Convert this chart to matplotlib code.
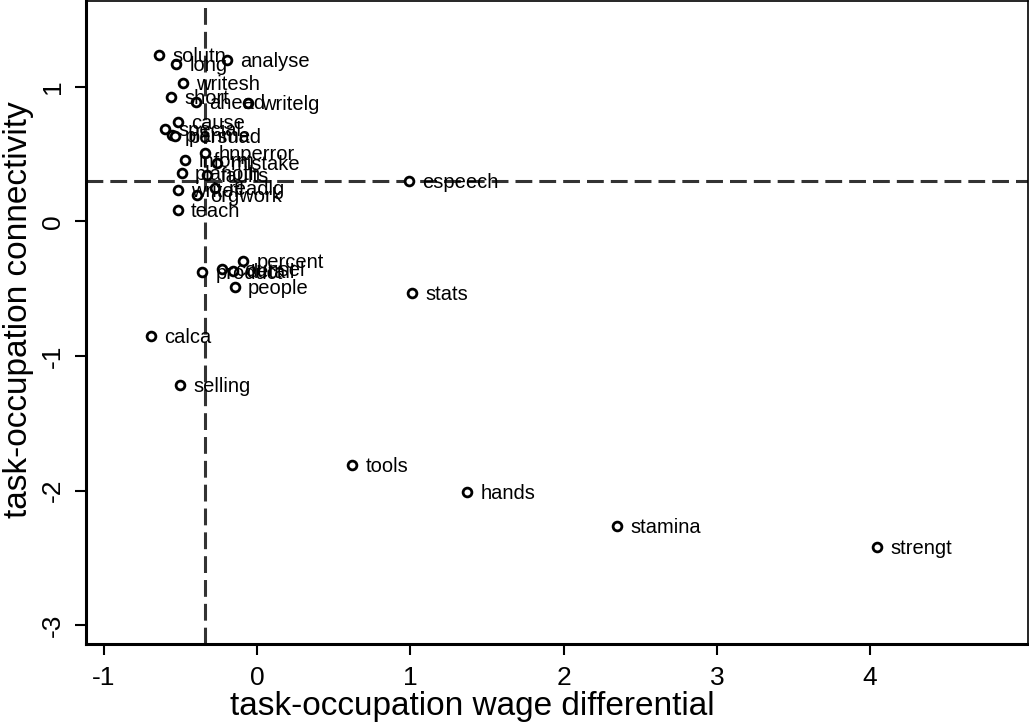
import matplotlib
matplotlib.use("Agg")
import matplotlib.pyplot as plt

plt.rcParams['font.family'] = ['Liberation Sans', 'DejaVu Sans']

labels = ["solutn", "long", "analyse", "writesh", "short", "ahead", "writelg",
          "cause", "special", "planme", "persuad", "hnperror", "inform", "mistake",
          "planoth", "faults", "writefl", "readlg", "orgwork", "teach", "espeech",
          "percent", "product", "counsel", "detail", "people", "stats", "calca",
          "selling", "tools", "hands", "stamina", "strengt"]
wage_diff = [-0.64, -0.529, -0.196, -0.483, -0.561, -0.398, -0.059,
             -0.516, -0.60, -0.555, -0.535, -0.339, -0.47, -0.261,
             -0.49, -0.326, -0.516, -0.274, -0.392, -0.516, 0.992,
             -0.091, -0.359, -0.228, -0.157, -0.144, 1.012, -0.692,
             -0.503, 0.62, 1.371, 2.35, 4.047]
connectivity = [1.237, 1.17, 1.20, 1.03, 0.925, 0.888, 0.88,
                0.74, 0.687, 0.643, 0.635, 0.509, 0.457, 0.435,
                0.36, 0.345, 0.234, 0.249, 0.197, 0.085, 0.30,
                -0.293, -0.375, -0.353, -0.368, -0.487, -0.531, -0.851,
                -1.215, -1.809, -2.01, -2.262, -2.418]
vline_x = -0.34
hline_y = 0.30
xticks = [-1, 0, 1, 2, 3, 4]
yticks = [-3, -2, -1, 0, 1]

fig = plt.figure(figsize=(10.29, 7.26), dpi=100)
ax = fig.add_axes([86/1029, 82/726, 942/1029, 643/726])

ax.axvline(vline_x, color='#333333', lw=2.2, ls=(0, (5.5, 2.3)), zorder=1)
ax.axhline(hline_y, color='#333333', lw=2.2, ls=(0, (5.5, 2.3)), zorder=1)

ax.scatter(wage_diff, connectivity, s=40, facecolors='white', edgecolors='black',
           linewidths=2.0, zorder=3)
for lab, x, y in zip(labels, wage_diff, connectivity):
    ax.annotate(lab, (x, y), xytext=(9.5, -1), textcoords='offset points',
                ha='left', va='center', fontsize=14.5, color='black', zorder=4)

ax.set_xlim(-1.116, 5.03)
ax.set_ylim(-3.139, 1.638)
ax.set_xticks(xticks)
ax.set_yticks(yticks)
ax.set_xticklabels([str(t) for t in xticks])
ax.set_yticklabels([str(t) for t in yticks], rotation=90, va='center')
ax.tick_params(axis='both', labelsize=19, length=8, width=1.5)
ax.tick_params(axis='x', pad=8)
ax.tick_params(axis='y', pad=7)

for side in ['top', 'right']:
    ax.spines[side].set_linewidth(1.2)
for side in ['left', 'bottom']:
    ax.spines[side].set_linewidth(2.2)

fig.text(472/1029, 11/726, "task-occupation wage differential", fontsize=24,
         ha='center', va='baseline')
fig.text(19/1029, (726-310)/726, "task-occupation connectivity", fontsize=24,
         ha='center', va='center', rotation=90)

fig.savefig("out.png", dpi=100)
